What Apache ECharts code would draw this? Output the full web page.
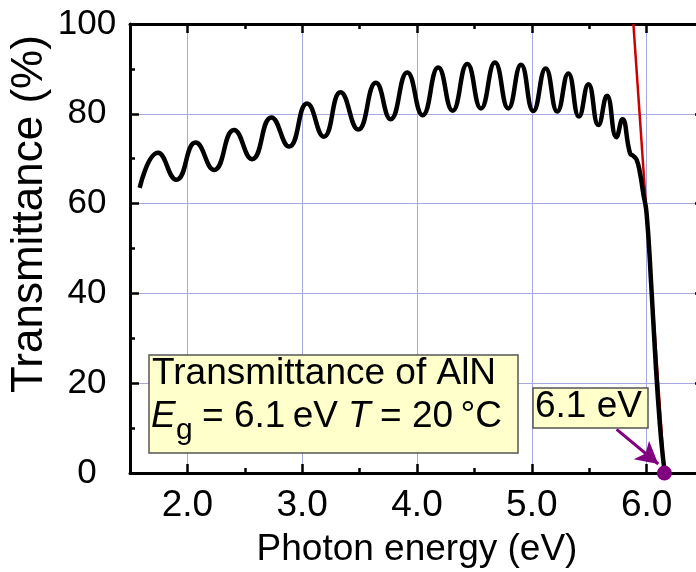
<!DOCTYPE html>
<html>
<head>
<meta charset="utf-8">
<script src="https://cdn.jsdelivr.net/npm/echarts@6/dist/echarts.min.js"></script>
<style>html,body{margin:0;padding:0;background:#fff}#c{width:696px;height:572px}</style>
</head>
<body>
<div id="c"></div>
<script>
// Measured spectrum (photon energy in eV, transmittance in %)
const energy = [1.584,1.744,1.904,2.072,2.232,2.406,2.563,2.732,2.886,3.043,3.188,3.334,3.488,3.642,3.770,3.915,4.049,4.185,4.310,4.438,4.557,4.679,4.795,4.906,5.013,5.121,5.222,5.318,5.411,5.493,5.580,5.655,5.737,5.789,5.856,5.885,5.914,5.943,5.971,6.000,6.040,6.080,6.115,6.140,6.157];
const transmittance = [63.5,71.3,65.3,73.6,67.5,76.4,69.9,79.2,72.7,82.3,74.9,84.8,76.5,86.9,78.8,89.2,79.7,90.3,80.7,91.1,81.2,91.4,81.2,90.9,80.6,90.1,80.5,89.0,79.4,86.6,77.5,84.0,74.8,78.8,71.2,70.6,69.7,66.7,62.3,57.8,42.0,24.0,11.0,4.0,0.5];
// Tangent line used to extract the band gap
const tangentE = [5.885, 6.155];
const tangentT = [100, 0];
// Band gap point
const gapE = 6.155, gapT = 0;
// Arrow from label to band gap point
const arrowFrom = [5.739, 9.7], arrowTo = [6.102, 2.0];

const curve = energy.map((e, i) => [e, transmittance[i]]);
const tangent = tangentE.map((e, i) => [e, tangentT[i]]);

const FONT = "'Liberation Sans', Arial, Helvetica, sans-serif";
const gridColor = '#a8a8e0';

const chart = echarts.init(document.getElementById('c'), null, {renderer: 'canvas'});

const axisCommon = {
  type: 'value',
  axisLine: {show: true, onZero: false, lineStyle: {color: '#000', width: 3}},
  axisTick: {show: true, inside: true, length: 9, lineStyle: {color: '#000', width: 2.5}},
  minorTick: {show: true, splitNumber: 2, length: 5, lineStyle: {color: '#000', width: 2.5}},
};

chart.setOption({
  animation: false,
  backgroundColor: '#fff',
  grid: {left: 130, right: -8, top: 24, bottom: 99, containLabel: false, outerBoundsMode: 'none'},
  xAxis: [
    Object.assign({}, axisCommon, {
      position: 'bottom', min: 1.5, max: 6.5,
      name: 'Photon energy (eV)', nameLocation: 'middle', nameGap: 58,
      nameTextStyle: {fontFamily: FONT, fontSize: 37, color: '#000'},
      axisLabel: {show: true, margin: 14, fontFamily: FONT, fontSize: 37, color: '#000',
        showMinLabel: false, showMaxLabel: false, formatter: v => v.toFixed(1)},
      splitLine: {show: true, lineStyle: {color: gridColor, width: 1}}
    }),
    Object.assign({}, axisCommon, {
      position: 'top', min: 1.5, max: 6.5,
      axisLabel: {show: false}, splitLine: {show: false}
    })
  ],
  yAxis: [
    Object.assign({}, axisCommon, {
      position: 'left', min: 0, max: 100, interval: 20,
      axisLabel: {show: true, margin: 43, align: 'center', fontFamily: FONT, fontSize: 35, color: '#000'},
      splitLine: {show: true, lineStyle: {color: gridColor, width: 1}}
    }),
    Object.assign({}, axisCommon, {
      position: 'right', min: 0, max: 100, interval: 20,
      axisLabel: {show: false}, splitLine: {show: false}
    })
  ],
  series: [
    {
      type: 'line', data: tangent, showSymbol: false, symbol: 'none', z: 3,
      lineStyle: {color: '#cc0000', width: 2.5}
    },
    {
      type: 'line', data: curve, smooth: 0.5, showSymbol: false, symbol: 'none', z: 4,
      lineStyle: {color: '#000', width: 4.5}
    },
    {
      type: 'scatter', data: [[gapE, gapT]], symbolSize: 15, z: 10, clip: false,
      itemStyle: {color: '#800080', opacity: 1},
      markLine: {
        silent: true, symbol: ['none', 'arrow'], symbolSize: [18, 22],
        lineStyle: {color: '#800080', width: 3, type: 'solid', opacity: 1},
        label: {show: false},
        data: [[{coord: arrowFrom}, {coord: arrowTo}]]
      }
    }
  ],
  graphic: [
    {type: 'text', x: 30, y: 214, rotation: Math.PI / 2, z: 20,
     style: {text: 'Transmittance (%)', font: '44px ' + FONT, fill: '#000', align: 'center', verticalAlign: 'middle'}},
    {type: 'rect', z: 20, shape: {x: 149, y: 355, width: 369, height: 98},
     style: {fill: '#ffffcc', stroke: '#555', lineWidth: 1.5}},
    {type: 'text', z: 21, x: 152, y: 374, style: {text: 'Transmittance of AlN', font: '37px ' + FONT, fill: '#000', align: 'left', verticalAlign: 'middle'}},
    {type: 'text', z: 21, x: 151, y: 417, style: {text: 'E', font: 'italic 37px ' + FONT, fill: '#000', align: 'left', verticalAlign: 'middle'}},
    {type: 'text', z: 21, x: 176, y: 431, style: {text: 'g', font: '30px ' + FONT, fill: '#000', align: 'left', verticalAlign: 'middle'}},
    {type: 'text', z: 21, x: 202, y: 417, style: {text: '= 6.1\u2009eV', font: '37px ' + FONT, fill: '#000', align: 'left', verticalAlign: 'middle'}},
    {type: 'text', z: 21, x: 348, y: 417, style: {text: 'T', font: 'italic 37px ' + FONT, fill: '#000', align: 'left', verticalAlign: 'middle'}},
    {type: 'text', z: 21, x: 380, y: 417, style: {text: '= 20\u2009°C', font: '37px ' + FONT, fill: '#000', align: 'left', verticalAlign: 'middle'}},
    {type: 'rect', z: 20, shape: {x: 533, y: 388, width: 115, height: 40},
     style: {fill: '#ffffcc', stroke: '#555', lineWidth: 1.5}},
    {type: 'text', z: 21, x: 535, y: 407, style: {text: '6.1 eV', font: '37px ' + FONT, fill: '#000', align: 'left', verticalAlign: 'middle'}}
  ]
});
</script>
</body>
</html>
